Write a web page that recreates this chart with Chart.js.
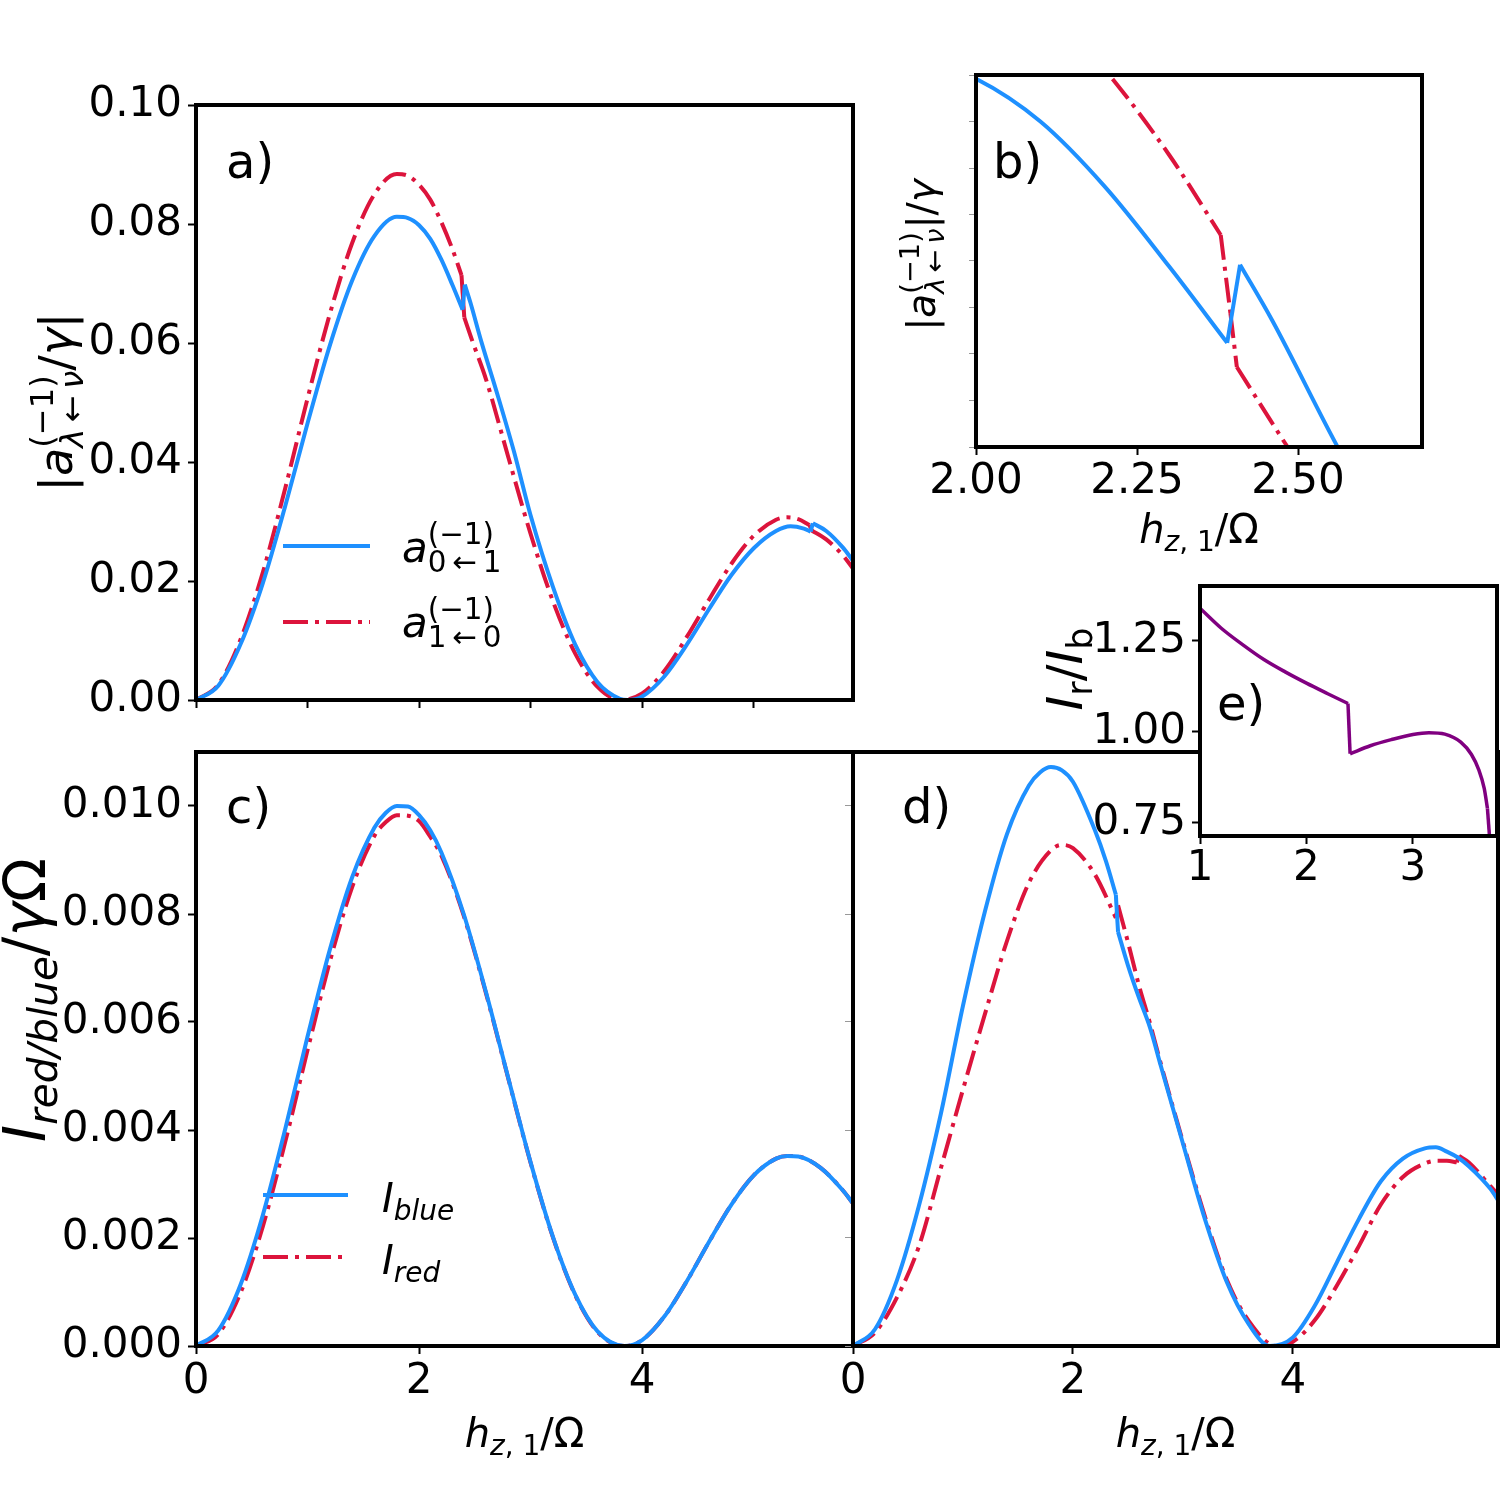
<!DOCTYPE html>
<html><head><meta charset="utf-8">
<script src="https://cdn.jsdelivr.net/npm/chart.js@4.4.0/dist/chart.umd.min.js"></script>
<style>
html,body{margin:0;padding:0;background:#fff;}
#fig{position:relative;width:1500px;height:1500px;overflow:hidden;background:#fff;}
#fig canvas{position:absolute;}
#ov{position:absolute;left:0;top:0;pointer-events:none;}
</style></head><body>
<div id="fig">
<canvas id="ca"></canvas><canvas id="cb"></canvas><canvas id="cc"></canvas><canvas id="cd"></canvas><canvas id="ce"></canvas>
<svg id="ov" xmlns="http://www.w3.org/2000/svg" width="1500" height="1500"></svg>
</div>
<script>
// ---------- data: panel a (and zoom b) ----------
const aBlueX = [0,0.2,0.4,0.6,0.8,1.0,1.2,1.4,1.6,1.8,1.9,2.0,2.1,2.2,2.3,2.39,2.41,2.46,2.56,2.7,2.85,3.0,3.2,3.4,3.6,3.8,3.87,4.0,4.2,4.4,4.6,4.8,5.0,5.2,5.33,5.45,5.51,5.53,5.65,5.8,5.89];
const aBlueY = [0,0.0024,0.0094,0.0197,0.0326,0.0465,0.0596,0.0705,0.0780,0.0812,0.0810,0.0798,0.0775,0.0740,0.0697,0.0656,0.0698,0.0668,0.0601,0.0515,0.0418,0.0310,0.0190,0.0093,0.0030,0.0002,0,0.0006,0.0040,0.0093,0.0153,0.0210,0.0255,0.0284,0.0292,0.0288,0.0283,0.0297,0.0284,0.0256,0.0234];
const aRedX = [0,0.2,0.4,0.6,0.8,1.0,1.2,1.4,1.6,1.8,1.9,2.0,2.1,2.2,2.3,2.38,2.395,2.405,2.48,2.6,2.8,3.0,3.2,3.4,3.6,3.81,4.0,4.2,4.4,4.6,4.8,5.0,5.2,5.3,5.4,5.5,5.52,5.65,5.8,5.89];
const aRedY = [0,0.0026,0.0102,0.0215,0.0356,0.0507,0.0649,0.0768,0.0850,0.0884,0.0881,0.0866,0.0841,0.0803,0.0757,0.0714,0.0672,0.0643,0.0602,0.0539,0.0408,0.0279,0.0166,0.0078,0.0022,0,0.0011,0.0049,0.0106,0.0169,0.0229,0.0276,0.0303,0.0307,0.0304,0.0294,0.0285,0.0270,0.0243,0.0221];
// ---------- data: panel c ----------
const cX = [0,0.2,0.4,0.6,0.8,1.0,1.2,1.4,1.6,1.7,1.8,1.9,2.0,2.1,2.2,2.4,2.6,2.8,3.0,3.2,3.4,3.6,3.84,4.0,4.2,4.4,4.6,4.8,5.0,5.2,5.3,5.4,5.6,5.8,5.89];
const cBlueY = [0,0.00029,0.00114,0.00243,0.00402,0.00573,0.00734,0.00868,0.00960,0.00987,0.01000,0.00999,0.00983,0.00955,0.00914,0.00800,0.00655,0.00496,0.00340,0.00202,0.00095,0.00027,0,0.00011,0.00055,0.00120,0.00193,0.00262,0.00316,0.00347,0.00352,0.00351,0.00330,0.00288,0.00264];
const cRedY = [0,0.00022,0.00099,0.00222,0.00378,0.00548,0.00712,0.00850,0.00945,0.00970,0.00983,0.00982,0.00972,0.00943,0.00908,0.00797,0.00653,0.00495,0.00339,0.00201,0.00094,0.00026,0,0.00011,0.00055,0.00120,0.00193,0.00262,0.00316,0.00347,0.00352,0.00351,0.00330,0.00288,0.00264];
// ---------- data: panel d ----------
const dBlueX = [0,0.2,0.4,0.6,0.8,1.0,1.2,1.4,1.6,1.7,1.8,1.9,2.0,2.2,2.3,2.39,2.41,2.5,2.6,2.7,2.8,3.0,3.2,3.4,3.6,3.79,4.0,4.2,4.4,4.6,4.8,5.0,5.2,5.3,5.4,5.5,5.6,5.8,5.88];
const dBlueY = [0,0.00031,0.00122,0.00260,0.00431,0.00630,0.00805,0.00948,0.01038,0.01062,0.01072,0.01066,0.01045,0.00955,0.00898,0.00836,0.00767,0.00705,0.00645,0.00590,0.00518,0.00375,0.00235,0.00118,0.00040,0,0.00016,0.00075,0.00155,0.00235,0.00305,0.00347,0.00366,0.00368,0.00360,0.00349,0.00333,0.00290,0.00265];
const dRedX = [0,0.2,0.4,0.6,0.8,1.0,1.2,1.4,1.6,1.8,1.9,2.0,2.2,2.39,2.41,2.5,2.6,2.7,2.8,3.0,3.2,3.4,3.6,3.85,4.0,4.2,4.4,4.6,4.8,5.0,5.2,5.3,5.4,5.49,5.51,5.6,5.8,5.88];
const dRedY = [0,0.00025,0.00090,0.00185,0.00330,0.00475,0.00615,0.00750,0.00858,0.00918,0.00928,0.00922,0.00873,0.00793,0.00816,0.00748,0.00668,0.00598,0.00522,0.00378,0.00240,0.00122,0.00046,0,0.00008,0.00048,0.00112,0.00185,0.00262,0.00313,0.00338,0.00343,0.00343,0.00340,0.00352,0.00340,0.00295,0.00277];
// ---------- data: panel e (ratio) ----------
const eX = [1.0,1.2,1.4,1.6,1.8,2.0,2.2,2.39,2.41,2.6,2.8,3.0,3.15,3.3,3.45,3.55,3.62,3.67,3.70,3.72,3.74];
const eY = [1.340,1.285,1.240,1.199,1.165,1.134,1.105,1.078,0.940,0.962,0.979,0.993,0.998,0.994,0.972,0.938,0.895,0.845,0.790,0.712,0.640];
// ---------- ticks ----------
const aXTicks = [0,1,2,3,4,5];
const aYTicks = [0,0.02,0.04,0.06,0.08,0.10];
const bXTicks = [2.0,2.25,2.5];
const bYTicks = [0.06,0.0625,0.065,0.0675,0.07,0.0725,0.075,0.0775,0.08];
const cXTicks = [0,2,4];
const cYTicks = [0,0.002,0.004,0.006,0.008,0.010];
const eXTicks = [1,2,3];
const eYTicks = [0.75,1.0,1.25];

const BLUE = '#1E90FF', RED = '#DC143C', PURPLE = '#800080';
const DASHDOT = [25,7,4,7];
const FONT = 'DejaVu Sans';
const JUMP = 0.025; // samples closer than this are a discontinuity: joined straight
Chart.defaults.font.family = FONT;
Chart.defaults.color = '#000';

const framePlugin = {
  id: 'frame',
  beforeDraw(chart, args, opts) {
    if (opts && opts.fill) {
      const a = chart.chartArea, c = chart.ctx;
      c.save(); c.fillStyle = '#fff'; c.fillRect(a.left, a.top, a.right - a.left, a.bottom - a.top); c.restore();
    }
  },
  afterDatasetsDraw(chart) {
    const a = chart.chartArea, c = chart.ctx;
    c.save(); c.strokeStyle = '#000'; c.lineWidth = 4;
    c.strokeRect(a.left, a.top, a.right - a.left, a.bottom - a.top); c.restore();
  }
};

// one series -> smooth pieces + straight connectors across discontinuities
function series(xs, ys, color, dash, w) {
  const pts = xs.map((x, i) => ({ x: x, y: ys[i] }));
  const out = []; let run = [pts[0]];
  const mk = (d, mode) => ({ data: d, borderColor: color, borderWidth: w || 4, borderDash: dash || [],
    pointRadius: 0, cubicInterpolationMode: mode, tension: 0, fill: false });
  for (let i = 1; i < pts.length; i++) {
    if (pts[i].x - pts[i - 1].x < JUMP) {
      if (run.length > 1) out.push(mk(run, 'monotone'));
      out.push(mk([pts[i - 1], pts[i]], 'default'));
      run = [pts[i]];
    } else run.push(pts[i]);
  }
  if (run.length > 1) out.push(mk(run, 'monotone'));
  return out;
}
function axisCfg(o, axis, size) {
  return {
    type: 'linear', min: o.min, max: o.max,
    afterBuildTicks: s => { s.ticks = o.ticks.map(v => ({ value: v })); },
    afterFit: s => { if (axis === 'x') s.height = size; else s.width = size; },
    grid: { display: true, drawOnChartArea: false, drawTicks: true, tickLength: o.tl || 8, tickWidth: o.tw || 2,
      tickColor: o.tc || '#000', tickBorderDash: o.dash || [], color: 'rgba(0,0,0,0)' },
    border: { display: false },
    ticks: { display: o.labels !== false, autoSkip: false, maxRotation: 0, minRotation: 0, padding: (o.pad !== undefined ? o.pad : 6),
      font: { size: 42, family: FONT }, color: '#000', callback: v => (o.fmt ? o.fmt(v) : String(v)) }
  };
}
function makePanel(id, r, m, datasets, xo, yo, fill) {
  const cv = document.getElementById(id);
  const W = r.R - r.L + m.l + m.r, H = r.B - r.T + m.t + m.b;
  cv.width = W; cv.height = H;
  cv.style.left = (r.L - m.l) + 'px'; cv.style.top = (r.T - m.t) + 'px';
  cv.style.width = W + 'px'; cv.style.height = H + 'px';
  return new Chart(cv, {
    type: 'line', data: { datasets: datasets },
    options: {
      responsive: false, animation: false, devicePixelRatio: 1,
      layout: { padding: { left: 0, top: m.t, right: m.r, bottom: 0 } },
      plugins: { legend: { display: false }, tooltip: { enabled: false }, frame: { fill: !!fill } },
      scales: { x: axisCfg(xo, 'x', m.b), y: axisCfg(yo, 'y', m.l) }
    },
    plugins: [framePlugin]
  });
}

// panel a
makePanel('ca', {L:196,T:105,R:853,B:700}, {l:150,t:45,r:10,b:50},
  [...series(aBlueX, aBlueY, BLUE), ...series(aRedX, aRedY, RED, DASHDOT)],
  {min:0, max:5.89, ticks:aXTicks, labels:false},
  {min:0, max:0.10, ticks:aYTicks, fmt:v=>v.toFixed(2)});
// panel b
makePanel('cb', {L:976,T:75,R:1422,B:447}, {l:70,t:20,r:20,b:70},
  [...series(aBlueX, aBlueY, BLUE), ...series(aRedX, aRedY, RED, DASHDOT)],
  {min:2.0, max:2.6925, ticks:bXTicks, fmt:v=>v.toFixed(2), pad:2},
  {min:0.06, max:0.08, ticks:bYTicks, labels:false, tl:23, tw:1, tc:'#999', dash:[0,16,7,0]});
// panel c
makePanel('cc', {L:196,T:752,R:853,B:1346}, {l:160,t:45,r:5,b:70},
  [...series(cX, cBlueY, BLUE), ...series(cX, cRedY, RED, DASHDOT)],
  {min:0, max:5.89, ticks:cXTicks, pad:3},
  {min:0, max:0.011, ticks:cYTicks, fmt:v=>v.toFixed(3)});
// panel d
makePanel('cd', {L:853,T:752,R:1498,B:1346}, {l:30,t:10,r:2,b:70},
  [...series(dBlueX, dBlueY, BLUE), ...series(dRedX, dRedY, RED, DASHDOT)],
  {min:0, max:5.865, ticks:cXTicks, pad:3},
  {min:0, max:0.011, ticks:cYTicks, labels:false, tl:16, tw:1, tc:'#999', dash:[0,8,8,0]});
// panel e (inset)
makePanel('ce', {L:1200,T:586,R:1497,B:836}, {l:130,t:45,r:3,b:70},
  series(eX, eY, PURPLE, [], 3.5),
  {min:1, max:3.79, ticks:eXTicks, pad:0},
  {min:0.714, max:1.401, ticks:eYTicks, fmt:v=>v.toFixed(2)}, true);

// ---------- text overlay (SVG, real text) ----------
const svg = document.getElementById('ov');
const NS = 'http://www.w3.org/2000/svg';
const mctx = document.createElement('canvas').getContext('2d');
function tw(t, px, it) { mctx.font = (it ? 'italic ' : '') + px + 'px "DejaVu Sans"'; return mctx.measureText(t).width; }
const R = t => ({ t: t, it: false }), I = t => ({ t: t, it: true });
function layout(items, S) {
  const out = []; let x = 0;
  for (const it of items) {
    if (it.sup || it.sub) {
      const s = S * 0.7; let wmax = 0;
      if (it.sup) { let xx = x; for (const r of it.sup) { out.push({ t: r.t, it: r.it, px: s, x: xx, y: -0.42 * S }); xx += tw(r.t, s, r.it); } wmax = Math.max(wmax, xx - x); }
      if (it.sub) { let xx = x; for (const r of it.sub) { out.push({ t: r.t, it: r.it, px: s, x: xx, y: (it.sup ? 0.24 : 0.2) * S }); xx += tw(r.t, s, r.it); } wmax = Math.max(wmax, xx - x); }
      x += wmax;
    } else { out.push({ t: it.t, it: it.it, px: S, x: x, y: 0 }); x += tw(it.t, S, it.it); }
  }
  return { out: out, width: x };
}
function mathText(x, y, rot, S, items, anchor) {
  const L = layout(items, S);
  const g = document.createElementNS(NS, 'g');
  g.setAttribute('transform', 'translate(' + x + ',' + y + ') rotate(' + rot + ')');
  for (const o of L.out) {
    const t = document.createElementNS(NS, 'text');
    t.setAttribute('x', (o.x - anchor * L.width).toFixed(2)); t.setAttribute('y', o.y.toFixed(2));
    t.setAttribute('font-family', FONT); t.setAttribute('font-size', o.px);
    if (o.it) t.setAttribute('font-style', 'italic');
    t.setAttribute('fill', '#000');
    t.setAttribute('xml:space', 'preserve');
    t.textContent = o.t; g.appendChild(t);
  }
  svg.appendChild(g);
}
function line(x1, y1, x2, y2, color, dash, w) {
  const l = document.createElementNS(NS, 'line');
  l.setAttribute('x1', x1); l.setAttribute('y1', y1); l.setAttribute('x2', x2); l.setAttribute('y2', y2);
  l.setAttribute('stroke', color); l.setAttribute('stroke-width', w || 4);
  if (dash) l.setAttribute('stroke-dasharray', dash.join(' '));
  svg.appendChild(l);
}
const TS = '\u2009';
// panel tags
mathText(226, 178, 0, 48, [R('a)')], 0);
mathText(993, 178, 0, 48, [R('b)')], 0);
mathText(226, 823, 0, 48, [R('c)')], 0);
mathText(902, 823, 0, 48, [R('d)')], 0);
mathText(1217, 720, 0, 48, [R('e)')], 0);
// axis labels
const hLabel = [I('h'), { sub: [I('z'), R(', 1')] }, R('/Ω')];
mathText(1199, 543, 0, 40, hLabel, 0.5);
mathText(524.5, 1447, 0, 40, hLabel, 0.5);
mathText(1175.5, 1447, 0, 40, hLabel, 0.5);
mathText(72, 402, -90, 46, [R('|'), I('a'), { sup: [R('(−1)')], sub: [I('λ'), R(TS + '←' + TS), I('ν')] }, R('/'), I('γ'), R('|')], 0.5);
mathText(935, 255, -90, 39, [R('|'), I('a'), { sup: [R('(−1)')], sub: [I('λ'), R(TS + '←' + TS), I('ν')] }, R('|/'), I('γ')], 0.5);
mathText(45, 1000, -90, 58, [I('I'), { sub: [I('red/blue')] }, R('/'), I('γ'), R('Ω')], 0.5);
mathText(1082, 669, -90, 50, [I('I'), { sub: [R('r')] }, R('/'), I('I'), { sub: [R('b')] }], 0.5);
// legends
line(283, 546, 370, 546, BLUE, null, 4);
line(283, 622, 370, 622, RED, DASHDOT, 4);
mathText(402, 562, 0, 42, [I('a'), { sup: [R('(−1)')], sub: [R('0' + TS + '←' + TS + '1')] }], 0);
mathText(402, 637, 0, 42, [I('a'), { sup: [R('(−1)')], sub: [R('1' + TS + '←' + TS + '0')] }], 0);
line(263, 1195, 348, 1195, BLUE, null, 4);
line(263, 1257, 348, 1257, RED, DASHDOT, 4);
mathText(382, 1212, 0, 40, [I('I'), { sub: [I('blue')] }], 0);
mathText(382, 1274, 0, 40, [I('I'), { sub: [I('red')] }], 0);
</script>
</body></html>
